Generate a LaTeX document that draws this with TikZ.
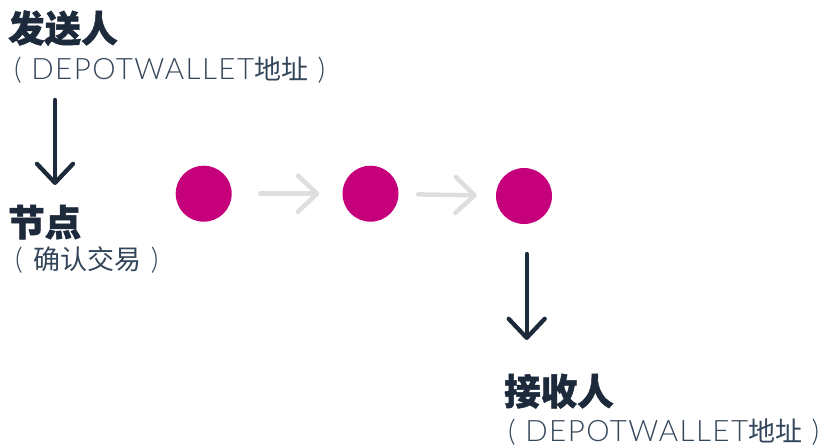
\documentclass[tikz,border=0pt]{standalone}
\usepackage{fontspec}
\usetikzlibrary{arrows.meta}
\newfontfamily\cjk{Noto Sans CJK SC}
\newfontfamily\cjkh{Noto Sans CJK SC}[BoldFeatures={FakeBold=1.3}]
\newfontfamily\latol{Lato Light}[LetterSpace=5]
\definecolor{navy}{HTML}{1C2A3B}
\definecolor{subc}{HTML}{34465A}
\definecolor{magen}{HTML}{C6007A}
\definecolor{lgray}{HTML}{DEDEDE}
\tikzset{
  head/.style={anchor=base west, inner sep=0pt, text=navy, font=\cjkh\bfseries\fontsize{36.5}{40}\selectfont},
  sub/.style={anchor=base west, inner sep=0pt, text=subc, font=\fontsize{29.5}{32}\selectfont},
  dot/.style={circle, fill=magen, draw=none, minimum size=56pt, inner sep=0pt},
  darrow/.style={draw=navy, line width=4.3pt, line cap=round, -{Straight Barb[length=19pt,width=36pt,round]}},
  garrow/.style={draw=lgray, line width=4.5pt, line cap=round, -{Straight Barb[length=19pt,width=36pt,round]}},
}
\begin{document}
\begin{tikzpicture}[x=1pt,y=1pt]
\useasboundingbox (0,0) rectangle (818,-445);
\node[head] (h1) at (8,-42) {发送人};
\node[sub] (s1) at (14,-79) {\latol( DEPOTWALLET\cjk\fontsize{27}{30}\selectfont 地址\latol\fontsize{29.5}{32}\selectfont{} )};
\node[head] (h2) at (8,-236) {节点};
\node[sub] (s2) at (15,-269) {\latol(\cjk\fontsize{27}{30}\selectfont{}\hspace{5pt} 确认交易{}\hspace{3pt} \latol\fontsize{29.5}{32}\selectfont)};
\node[head] (h3) at (504,-405) {接收人};
\node[sub] (s3) at (508,-441) {\latol( DEPOTWALLET\cjk\fontsize{27}{30}\selectfont 地址\latol\fontsize{29.5}{32}\selectfont{} )};
\node[dot] (c1) at (203.7,-193.7) {};
\node[dot] (c2) at (370.5,-193.7) {};
\node[dot] (c3) at (524,-196) {};
\draw[garrow, shorten <=28.3pt, shorten >=23pt] (c1) -- (c2);
\draw[garrow, shorten <=19.5pt, shorten >=19pt] (c2) -- (c3);
\coordinate (a1s) at (55,-100);
\coordinate (a1e) at (55,-185);
\coordinate (a2s) at (526.7,-254);
\coordinate (a2e) at (526.7,-340);
\draw[darrow] (a1s) -- (a1e);
\draw[darrow] (a2s) -- (a2e);
\end{tikzpicture}
\end{document}
